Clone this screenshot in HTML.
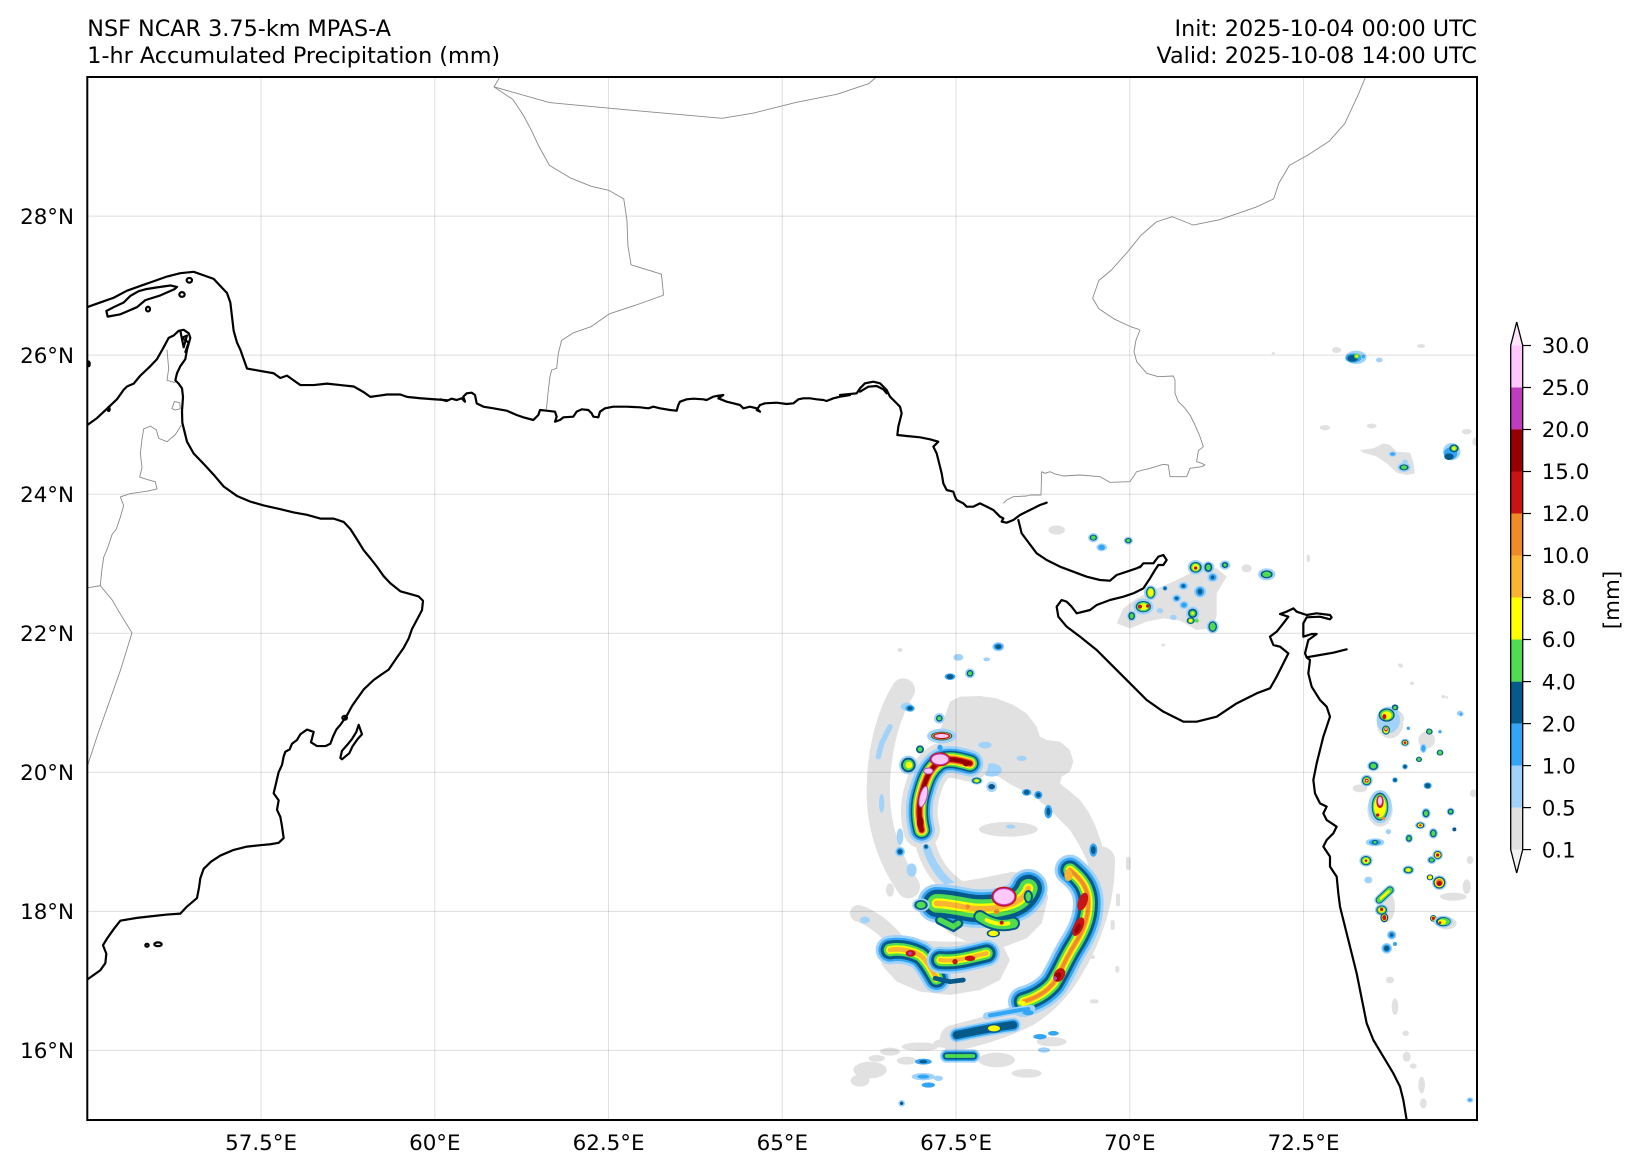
<!DOCTYPE html>
<html><head><meta charset="utf-8"><style>
html,body{margin:0;padding:0;background:#fff;}
svg{display:block;}
.t{font-family:"DejaVu Sans","Liberation Sans",sans-serif;fill:#000;}
.gy{fill:#e1e1e1}.lb{fill:#a0d2fa}.b{fill:#32a5f5}.db{fill:#065a8a}.gr{fill:#50dc50}.ye{fill:#ffff00}.o1{fill:#fab432}.o2{fill:#f08c28}.rd{fill:#c81414}.dr{fill:#960000}.mg{fill:#be3cbe}.pk{fill:#ffc8fa}
.cst{fill:none;stroke:#000;stroke-width:2.2;stroke-linejoin:round;stroke-linecap:round;}
.brd{fill:none;stroke:#8a8a8a;stroke-width:0.9;stroke-linejoin:round;}
.grid{stroke:#000;stroke-opacity:0.13;stroke-width:1;}
</style></head><body>
<svg width="1641" height="1173" viewBox="0 0 1641 1173" xmlns="http://www.w3.org/2000/svg">
<defs>
<clipPath id="mapclip"><rect x="87.3" y="77" width="1389.7" height="1043"/></clipPath>
<path id="nw" d="M245,600 C235,560 235,520 248,480 C258,445 270,415 300,395 C325,382 355,390 390,400"/>
<path id="cen" d="M290,820 C330,820 360,830 400,835 C440,838 480,835 520,820 C545,810 560,790 565,775"/>
<path id="llA" d="M150,960 C180,955 210,960 240,975 C260,990 275,1020 290,1045"/>
<path id="llB" d="M300,990 C340,995 380,985 440,970"/>
<path id="arc" d="M690,720 C720,745 745,770 745,820 C745,870 725,910 700,950 C675,990 665,1020 640,1060 C615,1090 585,1105 550,1115"/>
<path id="lb5" d="M350,1215 C400,1205 440,1195 520,1185"/>
<path id="s6" d="M320,1278 L400,1278"/>
</defs>

<!-- titles -->
<text class="t" x="87.3" y="36" font-size="22.3">NSF NCAR 3.75-km MPAS-A</text>
<text class="t" x="87.3" y="63" font-size="22.3">1-hr Accumulated Precipitation (mm)</text>
<text class="t" x="1477" y="36" font-size="22.3" text-anchor="end">Init: 2025-10-04 00:00 UTC</text>
<text class="t" x="1477" y="63" font-size="22.3" text-anchor="end">Valid: 2025-10-08 14:00 UTC</text>

<g clip-path="url(#mapclip)">
<!-- ===== CYCLONE ===== -->
<g transform="translate(840,630) scale(0.333333)">
 <path class="gy" d="M300,300 L330,215 L360,200 L420,198 L470,205 L520,225 L560,250 L590,290 L600,320 L620,330 L660,335 L690,360 L700,395 L690,425 L665,440 L660,460 L690,485 L720,510 L745,545 L765,585 L785,640 L800,700 L795,745 L775,770 L755,745 L740,690 L715,640 L690,600 L660,570 L625,535 L590,505 L555,485 L515,465 L475,440 L430,425 L395,405 L360,385 L320,360 Z"/>
 <g fill="none" stroke-linecap="round" stroke-linejoin="round">
  <path stroke="#e1e1e1" stroke-width="70" d="M190,180 C140,260 112,380 115,500 C118,600 150,690 205,770"/>
  <path stroke="#e1e1e1" stroke-width="60" d="M250,610 C262,690 300,750 370,790"/>
  <path stroke="#a0d2fa" stroke-width="24" d="M250,610 C262,690 300,750 370,790"/>
  <path stroke="#e1e1e1" stroke-width="50" d="M55,850 C100,865 140,900 170,935"/>
  <path stroke="#e1e1e1" stroke-width="80" d="M785,690 C785,790 760,880 720,960 C680,1040 640,1100 560,1150 C480,1190 420,1205 340,1225"/>
  <path stroke="#a0d2fa" stroke-width="16" d="M150,290 L125,340 L115,380"/>
 </g>
 <ellipse class="gy" cx="505" cy="598" rx="88" ry="22"/>
 <ellipse class="lb" cx="512" cy="590" rx="14" ry="6"/>
 <path class="gy" d="M250,790 L330,760 L420,745 L520,725 L600,745 L625,800 L605,880 L560,925 L480,955 L400,945 L330,910 L280,870 Z"/>
 <path class="gy" d="M120,940 L180,925 L300,935 L420,935 L490,950 L510,990 L480,1050 L420,1080 L330,1095 L240,1085 L170,1055 L125,1005 Z"/>
 <ellipse class="gy" cx="90" cy="1320" rx="50" ry="25"/>
 <ellipse class="gy" cx="60" cy="1352" rx="28" ry="18"/>
 <ellipse class="gy" cx="240" cy="1250" rx="55" ry="13"/>
 <ellipse class="gy" cx="320" cy="1240" rx="40" ry="14"/>
 <ellipse class="gy" cx="470" cy="1290" rx="55" ry="22"/>
 <ellipse class="gy" cx="560" cy="1330" rx="45" ry="13"/>
 <ellipse class="gy" cx="635" cy="1235" rx="45" ry="14"/>
 <ellipse class="gy" cx="200" cy="1292" rx="30" ry="12"/>
 <ellipse class="gy" cx="150" cy="1265" rx="30" ry="12"/>
 <ellipse class="gy" cx="110" cy="1285" rx="25" ry="10"/>
 <rect class="gy" x="858" y="680" width="14" height="40" rx="7"/>
 <rect class="gy" x="828" y="790" width="12" height="40" rx="6"/>
 <rect class="gy" x="812" y="870" width="12" height="30" rx="6"/>
 <rect class="gy" x="735" y="975" width="30" height="12" rx="6"/>
 <rect class="gy" x="750" y="1108" width="25" height="12" rx="6"/>
 <rect class="gy" x="826" y="1008" width="12" height="20" rx="6"/>
 <ellipse class="gy" cx="180" cy="60" rx="8" ry="6"/>
 <ellipse class="gy" cx="150" cy="780" rx="12" ry="20"/>
 <!-- light blue scattered -->
 <ellipse class="lb" cx="200" cy="230" rx="18" ry="12"/>
 <ellipse class="lb" cx="125" cy="520" rx="8" ry="28"/>
 <ellipse class="lb" cx="455" cy="420" rx="30" ry="20"/>
 <ellipse class="lb" cx="545" cy="385" rx="15" ry="8"/>
 <ellipse class="lb" cx="435" cy="345" rx="20" ry="10"/>
 <ellipse class="lb" cx="75" cy="870" rx="15" ry="10"/>
 <ellipse class="lb" cx="215" cy="720" rx="15" ry="20"/>
 <ellipse class="lb" cx="355" cy="82" rx="15" ry="10"/>
 <ellipse class="lb" cx="440" cy="88" rx="10" ry="6"/>
 <ellipse class="lb" cx="180" cy="620" rx="10" ry="25"/>
 <!-- stacked bands -->
 <g fill="none" stroke-linecap="round" stroke-linejoin="round">
  <use href="#nw" stroke="#e1e1e1" stroke-width="110"/>
  <use href="#nw" stroke="#a0d2fa" stroke-width="80"/>
  <use href="#nw" stroke="#32a5f5" stroke-width="64"/>
  <use href="#nw" stroke="#065a8a" stroke-width="52"/>
  <use href="#nw" stroke="#50dc50" stroke-width="42"/>
  <use href="#nw" stroke="#ffff00" stroke-width="32"/>
  <use href="#nw" stroke="#fab432" stroke-width="26"/>
  <use href="#nw" stroke="#f08c28" stroke-width="22"/>
  <use href="#nw" stroke="#c81414" stroke-width="17"/>
  <use href="#nw" stroke="#960000" stroke-width="11"/>

  <use href="#cen" stroke="#a0d2fa" stroke-width="116"/>
  <use href="#cen" stroke="#32a5f5" stroke-width="98"/>
  <use href="#cen" stroke="#065a8a" stroke-width="82"/>
  <use href="#cen" stroke="#50dc50" stroke-width="56"/>
  <use href="#cen" stroke="#ffff00" stroke-width="30"/>
  <use href="#cen" stroke="#fab432" stroke-width="16"/>

  <use href="#llA" stroke="#a0d2fa" stroke-width="86"/>
  <use href="#llA" stroke="#32a5f5" stroke-width="70"/>
  <use href="#llA" stroke="#065a8a" stroke-width="56"/>
  <use href="#llA" stroke="#50dc50" stroke-width="38"/>
  <use href="#llA" stroke="#ffff00" stroke-width="24"/>
  <use href="#llA" stroke="#fab432" stroke-width="14"/>

  <use href="#llB" stroke="#a0d2fa" stroke-width="80"/>
  <use href="#llB" stroke="#32a5f5" stroke-width="66"/>
  <use href="#llB" stroke="#065a8a" stroke-width="54"/>
  <use href="#llB" stroke="#50dc50" stroke-width="36"/>
  <use href="#llB" stroke="#ffff00" stroke-width="22"/>
  <use href="#llB" stroke="#fab432" stroke-width="12"/>
  <path stroke="#065a8a" stroke-width="14" d="M285,1045 L330,1055 L370,1050"/>

  <use href="#arc" stroke="#a0d2fa" stroke-width="92"/>
  <use href="#arc" stroke="#32a5f5" stroke-width="74"/>
  <use href="#arc" stroke="#065a8a" stroke-width="58"/>
  <use href="#arc" stroke="#50dc50" stroke-width="40"/>
  <use href="#arc" stroke="#ffff00" stroke-width="26"/>
  <use href="#arc" stroke="#fab432" stroke-width="16"/>
  <use href="#arc" stroke="#f08c28" stroke-width="10"/>

  <use href="#lb5" stroke="#a0d2fa" stroke-width="44"/>
  <use href="#lb5" stroke="#32a5f5" stroke-width="34"/>
  <use href="#lb5" stroke="#065a8a" stroke-width="24"/>
  <path stroke="#a0d2fa" stroke-width="22" d="M440,1158 C480,1150 520,1142 575,1136"/>
  <path stroke="#32a5f5" stroke-width="12" d="M450,1156 C490,1150 520,1142 565,1137"/>

  <use href="#s6" stroke="#a0d2fa" stroke-width="40"/>
  <use href="#s6" stroke="#32a5f5" stroke-width="30"/>
  <use href="#s6" stroke="#065a8a" stroke-width="22"/>
  <use href="#s6" stroke="#50dc50" stroke-width="11"/>
 </g>
 <!-- NW arm details -->
 <ellipse class="lb" cx="305" cy="318" rx="44" ry="22"/>
 <ellipse class="db" cx="305" cy="318" rx="32" ry="13"/>
 <ellipse class="ye" cx="305" cy="318" rx="28" ry="11"/>
 <ellipse class="rd" cx="305" cy="318" rx="26" ry="10"/>
 <ellipse class="pk" cx="305" cy="318" rx="21" ry="6"/>
 <circle class="lb" cx="298" cy="265" r="16"/><circle class="db" cx="298" cy="265" r="10"/><circle class="gr" cx="298" cy="265" r="6"/>
 <circle class="b" cx="300" cy="352" r="8"/>
 <circle class="lb" cx="205" cy="405" r="28"/><circle class="db" cx="205" cy="405" r="22"/><circle class="gr" cx="205" cy="405" r="16"/><circle class="ye" cx="207" cy="405" r="10"/>
 <circle class="db" cx="240" cy="358" r="12"/><circle class="gr" cx="240" cy="358" r="7"/>
 <ellipse class="rd" cx="300" cy="388" rx="31" ry="21"/>
 <ellipse class="pk" cx="300" cy="388" rx="26" ry="16" stroke="#be3cbe" stroke-width="3"/>
 <ellipse class="pk" cx="265" cy="423" rx="14" ry="9" stroke="#be3cbe" stroke-width="3"/>
 <ellipse class="pk" cx="250" cy="500" rx="11" ry="32" transform="rotate(15 250 500)" stroke="#be3cbe" stroke-width="3"/>
 <ellipse class="dr" cx="241" cy="578" rx="10" ry="20"/>
 <circle class="dr" cx="378" cy="400" r="9"/>
 <ellipse class="lb" cx="410" cy="452" rx="18" ry="12"/><ellipse class="db" cx="410" cy="452" rx="14" ry="9"/><ellipse class="gr" cx="410" cy="452" rx="10" ry="6"/><ellipse class="ye" cx="410" cy="452" rx="6" ry="4"/>
 <circle class="lb" cx="180" cy="665" r="15"/><circle class="b" cx="180" cy="665" r="11"/><circle class="db" cx="180" cy="665" r="7"/>
 <circle class="b" cx="258" cy="650" r="8"/><circle class="db" cx="258" cy="650" r="5"/>
 <!-- central details -->
 <ellipse class="rd" cx="492" cy="800" rx="38" ry="30"/>
 <ellipse class="pk" cx="492" cy="800" rx="32" ry="24" stroke="#be3cbe" stroke-width="3"/>
 <path fill="none" stroke="#065a8a" stroke-width="40" stroke-linecap="round" d="M420,860 C450,880 480,890 520,880"/>
 <path fill="none" stroke="#50dc50" stroke-width="28" stroke-linecap="round" d="M420,860 C450,880 480,890 520,880"/>
 <path fill="none" stroke="#ffff00" stroke-width="12" stroke-linecap="round" d="M440,870 C460,880 480,885 505,880"/>
 <ellipse class="db" cx="460" cy="910" rx="20" ry="12"/><ellipse class="ye" cx="460" cy="910" rx="15" ry="8"/>
 <path fill="none" stroke="#065a8a" stroke-width="30" stroke-linecap="round" d="M300,870 L340,890 L355,880"/>
 <path fill="none" stroke="#50dc50" stroke-width="16" stroke-linecap="round" d="M300,870 L340,890 L355,880"/>
 <ellipse class="lb" cx="243" cy="825" rx="26" ry="20"/><ellipse class="db" cx="243" cy="825" rx="20" ry="15"/><ellipse class="gr" cx="243" cy="825" rx="14" ry="10"/>
 <ellipse class="db" cx="565" cy="800" rx="14" ry="20"/><ellipse class="gr" cx="565" cy="800" rx="8" ry="14"/>
 <circle class="o2" cx="383" cy="830" r="7"/><circle class="o2" cx="470" cy="845" r="8"/><circle class="rd" cx="485" cy="878" r="6"/>
 <!-- lower-left cores -->
 <ellipse class="rd" cx="212" cy="970" rx="15" ry="10"/><circle class="mg" cx="210" cy="970" r="5"/>
 <circle class="rd" cx="345" cy="995" r="8"/>
 <ellipse class="rd" cx="390" cy="985" rx="16" ry="8"/>
 <!-- arc cores -->
 <ellipse class="rd" cx="728" cy="815" rx="14" ry="28" transform="rotate(20 728 815)"/>
 <ellipse class="rd" cx="715" cy="890" rx="14" ry="30" transform="rotate(25 715 890)"/>
 <ellipse class="dr" cx="713" cy="895" rx="7" ry="16" transform="rotate(25 713 895)"/>
 <ellipse class="rd" cx="658" cy="1035" rx="16" ry="22" transform="rotate(30 658 1035)"/>
 <ellipse class="dr" cx="652" cy="1040" rx="10" ry="14" transform="rotate(30 652 1040)"/>
 <circle class="mg" cx="645" cy="1045" r="6"/>
 <ellipse class="o1" cx="685" cy="735" rx="12" ry="18"/>
 <ellipse class="ye" cx="545" cy="1118" rx="12" ry="6"/>
 <!-- lower band details -->
 <ellipse class="db" cx="462" cy="1195" rx="24" ry="14"/><ellipse class="ye" cx="462" cy="1195" rx="18" ry="9"/>
 <ellipse class="b" cx="600" cy="1220" rx="20" ry="8"/><ellipse class="b" cx="640" cy="1210" rx="16" ry="7"/>
 <ellipse class="lb" cx="612" cy="1260" rx="18" ry="8"/>
 <ellipse class="b" cx="565" cy="1148" rx="16" ry="8"/>
 <ellipse class="b" cx="250" cy="1295" rx="25" ry="9"/><ellipse class="db" cx="250" cy="1295" rx="12" ry="5"/>
 <ellipse class="lb" cx="250" cy="1340" rx="35" ry="11"/><ellipse class="b" cx="250" cy="1340" rx="18" ry="6"/>
 <ellipse class="b" cx="265" cy="1365" rx="20" ry="8"/>
 <ellipse class="lb" cx="295" cy="1345" rx="14" ry="8"/>
 <circle class="lb" cx="185" cy="1420" r="10"/><circle class="db" cx="185" cy="1420" r="5"/>
 <!-- top dots -->
 <ellipse class="lb" cx="475" cy="50" rx="18" ry="14"/><ellipse class="b" cx="475" cy="50" rx="14" ry="10"/><ellipse class="db" cx="475" cy="50" rx="9" ry="7"/>
 <ellipse class="b" cx="330" cy="140" rx="16" ry="10"/><ellipse class="db" cx="330" cy="140" rx="10" ry="7"/>
 <circle class="lb" cx="390" cy="130" r="15"/><circle class="db" cx="390" cy="130" r="10"/><circle class="gr" cx="390" cy="130" r="6"/>
 <ellipse class="b" cx="210" cy="235" rx="14" ry="10"/><ellipse class="db" cx="210" cy="235" rx="8" ry="6"/>
 <circle class="lb" cx="455" cy="470" r="16"/><ellipse class="db" cx="455" cy="470" rx="10" ry="8"/>
 <ellipse class="b" cx="560" cy="487" rx="14" ry="10"/><ellipse class="db" cx="560" cy="487" rx="8" ry="7"/>
 <circle class="b" cx="595" cy="495" r="12"/><circle class="db" cx="595" cy="495" r="7"/>
 <ellipse class="b" cx="625" cy="545" rx="12" ry="20"/><ellipse class="db" cx="625" cy="545" rx="6" ry="12"/>
 <ellipse class="b" cx="760" cy="660" rx="12" ry="20"/><ellipse class="db" cx="760" cy="660" rx="7" ry="12"/>
</g>

<!-- ===== GUJARAT / NE region precip (zoom8 coords) ===== -->
<g transform="translate(1030,330) scale(0.333333)">
 <ellipse class="gy" cx="920" cy="60" rx="14" ry="9"/>
 <ellipse class="gy" cx="1175" cy="48" rx="10" ry="5"/>
 <ellipse class="gy" cx="885" cy="293" rx="16" ry="8"/>
 <ellipse class="gy" cx="1025" cy="288" rx="15" ry="7"/>
 <ellipse class="gy" cx="1310" cy="305" rx="15" ry="8"/>
 <ellipse class="gy" cx="1335" cy="335" rx="8" ry="12"/>
 <ellipse class="gy" cx="730" cy="70" rx="5" ry="4"/>
 <path class="gy" d="M990,360 L1030,355 L1060,340 L1080,345 L1100,365 L1140,368 L1150,395 L1155,430 L1130,435 L1100,428 L1070,400 L1040,380 L1000,368 Z"/>
 <ellipse class="gy" cx="80" cy="600" rx="25" ry="14"/>
 <path class="gy" d="M260,880 L280,835 L320,805 L370,780 L430,755 L480,730 L520,712 L560,715 L590,740 L560,790 L560,860 L545,895 L500,900 L450,872 L400,865 L350,875 L300,895 Z"/>
 <ellipse class="gy" cx="650" cy="715" rx="15" ry="12"/>
 <ellipse class="gy" cx="835" cy="685" rx="5" ry="12"/>
 <ellipse class="gy" cx="1110" cy="1005" rx="6" ry="5"/>
 <ellipse class="gy" cx="1145" cy="1060" rx="5" ry="5"/>
 <ellipse class="gy" cx="1240" cy="1100" rx="6" ry="5"/>
 <ellipse class="gy" cx="1090" cy="1165" rx="32" ry="26"/>
 <ellipse class="gy" cx="400" cy="945" rx="6" ry="4"/>
 <!-- cells -->
 <ellipse class="lb" cx="978" cy="82" rx="32" ry="20"/><ellipse class="b" cx="970" cy="84" rx="24" ry="14"/><ellipse class="db" cx="968" cy="85" rx="16" ry="10"/><ellipse class="gr" cx="980" cy="78" rx="8" ry="8"/><circle class="ye" cx="980" cy="78" r="4"/>
 <ellipse class="lb" cx="1048" cy="90" rx="10" ry="7"/><circle class="b" cx="1000" cy="80" r="5"/>
 <ellipse class="lb" cx="1088" cy="372" rx="12" ry="8"/><ellipse class="b" cx="1088" cy="372" rx="7" ry="5"/>
 <ellipse class="lb" cx="1125" cy="395" rx="8" ry="6"/>
 <ellipse class="lb" cx="1122" cy="412" rx="20" ry="14"/><ellipse class="db" cx="1122" cy="412" rx="14" ry="9"/><ellipse class="gr" cx="1122" cy="412" rx="9" ry="6"/>
 <circle class="lb" cx="1265" cy="365" r="26"/><ellipse class="b" cx="1262" cy="370" rx="20" ry="18"/><ellipse class="db" cx="1257" cy="380" rx="14" ry="10"/><ellipse class="db" cx="1272" cy="355" rx="14" ry="12"/><ellipse class="gr" cx="1272" cy="355" rx="9" ry="8"/><circle class="ye" cx="1272" cy="355" r="5"/>
 <ellipse class="lb" cx="190" cy="623" rx="16" ry="14"/><ellipse class="db" cx="190" cy="623" rx="11" ry="9"/><ellipse class="gr" cx="190" cy="623" rx="7" ry="6"/>
 <ellipse class="lb" cx="215" cy="652" rx="16" ry="12"/><ellipse class="b" cx="215" cy="652" rx="10" ry="8"/>
 <ellipse class="lb" cx="295" cy="632" rx="14" ry="12"/><ellipse class="db" cx="295" cy="632" rx="10" ry="8"/><ellipse class="gr" cx="295" cy="632" rx="6" ry="5"/>
 <ellipse class="lb" cx="497" cy="712" rx="24" ry="22"/><ellipse class="db" cx="497" cy="712" rx="18" ry="16"/><ellipse class="gr" cx="497" cy="712" rx="14" ry="13"/><ellipse class="ye" cx="497" cy="712" rx="10" ry="10"/><circle class="rd" cx="497" cy="714" r="5"/>
 <ellipse class="lb" cx="535" cy="712" rx="18" ry="18"/><ellipse class="db" cx="535" cy="712" rx="12" ry="14"/><ellipse class="gr" cx="535" cy="712" rx="7" ry="9"/>
 <ellipse class="lb" cx="585" cy="705" rx="16" ry="14"/><ellipse class="db" cx="585" cy="705" rx="10" ry="9"/><circle class="gr" cx="585" cy="705" r="5"/>
 <ellipse class="lb" cx="548" cy="742" rx="16" ry="14"/><ellipse class="b" cx="548" cy="742" rx="11" ry="10"/><circle class="db" cx="548" cy="742" r="5"/>
 <ellipse class="lb" cx="460" cy="768" rx="15" ry="12"/><ellipse class="b" cx="460" cy="768" rx="10" ry="8"/><circle class="db" cx="460" cy="768" r="5"/>
 <ellipse class="lb" cx="510" cy="785" rx="18" ry="18"/><ellipse class="b" cx="510" cy="785" rx="13" ry="14"/><ellipse class="db" cx="510" cy="785" rx="7" ry="8"/>
 <ellipse class="lb" cx="440" cy="805" rx="14" ry="12"/><ellipse class="b" cx="440" cy="805" rx="9" ry="8"/><ellipse class="db" cx="440" cy="805" rx="5" ry="4"/>
 <ellipse class="lb" cx="462" cy="825" rx="14" ry="12"/><ellipse class="b" cx="462" cy="825" rx="9" ry="8"/>
 <circle class="lb" cx="488" cy="850" r="20"/><circle class="db" cx="488" cy="850" r="14"/><circle class="gr" cx="488" cy="850" r="9"/><circle class="ye" cx="488" cy="850" r="4"/>
 <ellipse class="db" cx="482" cy="872" rx="12" ry="10"/><ellipse class="gr" cx="482" cy="872" rx="8" ry="7"/><circle class="ye" cx="482" cy="872" r="5"/>
 <circle class="gr" cx="500" cy="872" r="6"/>
 <ellipse class="lb" cx="548" cy="890" rx="18" ry="20"/><ellipse class="db" cx="548" cy="890" rx="13" ry="16"/><ellipse class="gr" cx="548" cy="890" rx="9" ry="12"/>
 <ellipse class="lb" cx="362" cy="788" rx="20" ry="22"/><ellipse class="db" cx="362" cy="788" rx="14" ry="18"/><ellipse class="gr" cx="362" cy="788" rx="11" ry="15"/><ellipse class="ye" cx="362" cy="788" rx="8" ry="12"/>
 <ellipse class="lb" cx="340" cy="830" rx="30" ry="24"/><ellipse class="db" cx="340" cy="830" rx="23" ry="17"/><ellipse class="gr" cx="340" cy="830" rx="19" ry="14"/><ellipse class="ye" cx="340" cy="830" rx="15" ry="10"/><circle class="rd" cx="330" cy="830" r="6"/><circle class="rd" cx="353" cy="828" r="5"/>
 <ellipse class="lb" cx="305" cy="858" rx="14" ry="16"/><ellipse class="db" cx="305" cy="858" rx="10" ry="12"/><ellipse class="gr" cx="305" cy="858" rx="6" ry="8"/>
 <circle class="b" cx="405" cy="775" r="7"/><circle class="db" cx="405" cy="775" r="4"/>
 <ellipse class="lb" cx="390" cy="842" rx="10" ry="8"/>
 <ellipse class="lb" cx="430" cy="862" rx="10" ry="8"/>
 <ellipse class="lb" cx="710" cy="733" rx="26" ry="18"/><ellipse class="db" cx="710" cy="733" rx="18" ry="12"/><ellipse class="gr" cx="710" cy="733" rx="13" ry="8"/>
 <ellipse class="lb" cx="1078" cy="1160" rx="36" ry="28"/><ellipse class="db" cx="1075" cy="1160" rx="28" ry="20"/><ellipse class="gr" cx="1075" cy="1160" rx="22" ry="16"/><ellipse class="ye" cx="1075" cy="1160" rx="16" ry="12"/><ellipse class="rd" cx="1065" cy="1160" rx="8" ry="10"/>
 <circle class="db" cx="1095" cy="1133" r="10"/><circle class="gr" cx="1095" cy="1133" r="6"/>
 <ellipse class="rd" cx="1065" cy="1195" rx="10" ry="7"/><circle class="pk" cx="1065" cy="1195" r="4"/>
 <circle class="b" cx="1135" cy="1195" r="5"/><circle class="b" cx="1195" cy="1200" r="5"/>
 <ellipse class="lb" cx="1290" cy="1150" rx="10" ry="8"/><ellipse class="b" cx="1290" cy="1150" rx="5" ry="4"/>
</g>

<!-- ===== India west coast precip (zoom9 coords) ===== -->
<g transform="translate(1240,640) scale(0.333333)">
 <ellipse class="gy" cx="483" cy="78" rx="6" ry="5"/>
 <ellipse class="gy" cx="517" cy="130" rx="5" ry="5"/>
 <ellipse class="gy" cx="620" cy="172" rx="4" ry="4"/>
 <ellipse class="gy" cx="360" cy="445" rx="22" ry="12"/>
 <ellipse class="gy" cx="640" cy="770" rx="40" ry="12"/>
 <ellipse class="gy" cx="680" cy="740" rx="12" ry="22"/>
 <ellipse class="gy" cx="450" cy="1020" rx="12" ry="10"/>
 <ellipse class="gy" cx="465" cy="1100" rx="10" ry="25"/>
 <ellipse class="gy" cx="497" cy="1180" rx="10" ry="8"/>
 <ellipse class="gy" cx="500" cy="1250" rx="12" ry="15"/>
 <ellipse class="gy" cx="520" cy="1278" rx="10" ry="8"/>
 <ellipse class="gy" cx="545" cy="1335" rx="10" ry="25"/>
 <ellipse class="gy" cx="550" cy="1390" rx="10" ry="15"/>
 <ellipse class="gy" cx="700" cy="460" rx="10" ry="12"/>
 <ellipse class="gy" cx="690" cy="660" rx="10" ry="12"/>
 <ellipse class="gy" cx="450" cy="250" rx="40" ry="45"/>
 <ellipse class="gy" cx="420" cy="510" rx="38" ry="50"/>
 <ellipse class="gy" cx="560" cy="300" rx="25" ry="25"/>
 <ellipse class="gy" cx="440" cy="800" rx="25" ry="45"/>
 <ellipse class="gy" cx="620" cy="850" rx="30" ry="18"/>
 <ellipse class="lb" cx="690" cy="1380" rx="10" ry="8"/><ellipse class="b" cx="690" cy="1380" rx="5" ry="4"/>
 <ellipse class="lb" cx="445" cy="240" rx="35" ry="40"/><ellipse class="db" cx="440" cy="225" rx="24" ry="20"/><ellipse class="gr" cx="440" cy="225" rx="20" ry="16"/><ellipse class="ye" cx="440" cy="226" rx="15" ry="12"/><ellipse class="rd" cx="433" cy="230" rx="6" ry="8"/>
 <ellipse class="db" cx="465" cy="203" rx="9" ry="8"/><circle class="gr" cx="465" cy="203" r="5"/>
 <ellipse class="db" cx="438" cy="270" rx="12" ry="14"/><ellipse class="gr" cx="438" cy="270" rx="9" ry="11"/><ellipse class="ye" cx="438" cy="270" rx="7" ry="9"/><ellipse class="rd" cx="438" cy="268" rx="5" ry="6"/><circle class="pk" cx="438" cy="267" r="3"/>
 <ellipse class="lb" cx="495" cy="308" rx="14" ry="12"/><ellipse class="db" cx="495" cy="308" rx="10" ry="9"/><ellipse class="ye" cx="495" cy="308" rx="7" ry="6"/><circle class="rd" cx="495" cy="308" r="4"/>
 <ellipse class="db" cx="568" cy="275" rx="10" ry="9"/><circle class="gr" cx="568" cy="275" r="6"/>
 <ellipse class="db" cx="600" cy="338" rx="10" ry="9"/><circle class="gr" cx="600" cy="338" r="6"/>
 <ellipse class="db" cx="537" cy="358" rx="9" ry="8"/><circle class="gr" cx="537" cy="358" r="5"/>
 <circle class="b" cx="495" cy="380" r="8"/><circle class="db" cx="495" cy="380" r="5"/>
 <ellipse class="lb" cx="550" cy="325" rx="10" ry="14"/><ellipse class="b" cx="550" cy="325" rx="6" ry="10"/>
 <circle class="lb" cx="600" cy="275" r="6"/><circle class="b" cx="600" cy="275" r="4"/>
 <circle class="lb" cx="663" cy="222" r="8"/><circle class="b" cx="663" cy="222" r="4"/>
 <ellipse class="lb" cx="400" cy="378" rx="18" ry="16"/><ellipse class="db" cx="400" cy="378" rx="14" ry="12"/><ellipse class="gr" cx="400" cy="378" rx="9" ry="8"/>
 <circle class="lb" cx="380" cy="422" r="18"/><circle class="db" cx="380" cy="422" r="14"/><circle class="gr" cx="380" cy="422" r="11"/><circle class="ye" cx="380" cy="422" r="8"/><circle class="rd" cx="380" cy="422" r="6"/><circle class="pk" cx="380" cy="422" r="3"/>
 <circle class="b" cx="465" cy="420" r="8"/><circle class="db" cx="465" cy="420" r="5"/>
 <ellipse class="b" cx="563" cy="437" rx="12" ry="10"/><ellipse class="db" cx="563" cy="437" rx="8" ry="7"/>
 <ellipse class="lb" cx="420" cy="500" rx="35" ry="50"/><ellipse class="db" cx="420" cy="500" rx="25" ry="42"/><ellipse class="gr" cx="420" cy="500" rx="22" ry="38"/><ellipse class="ye" cx="420" cy="500" rx="18" ry="32"/><ellipse class="rd" cx="420" cy="485" rx="11" ry="19"/><ellipse class="pk" cx="420" cy="483" rx="7" ry="14" stroke="#be3cbe" stroke-width="2"/><circle class="rd" cx="413" cy="525" r="5"/><ellipse class="o2" cx="430" cy="535" rx="6" ry="5"/>
 <ellipse class="lb" cx="558" cy="520" rx="14" ry="16"/><ellipse class="db" cx="558" cy="520" rx="10" ry="12"/><ellipse class="gr" cx="558" cy="520" rx="6" ry="8"/>
 <circle class="lb" cx="632" cy="515" r="12"/><circle class="db" cx="632" cy="515" r="9"/><circle class="gr" cx="632" cy="515" r="5"/>
 <ellipse class="lb" cx="580" cy="580" rx="14" ry="16"/><ellipse class="db" cx="580" cy="580" rx="10" ry="12"/><ellipse class="gr" cx="580" cy="580" rx="6" ry="8"/>
 <ellipse class="lb" cx="541" cy="556" rx="16" ry="12"/><ellipse class="db" cx="541" cy="556" rx="12" ry="9"/><ellipse class="ye" cx="541" cy="556" rx="8" ry="6"/><ellipse class="rd" cx="541" cy="556" rx="4" ry="3"/>
 <circle class="db" cx="643" cy="568" r="6"/>
 <ellipse class="lb" cx="507" cy="595" rx="12" ry="14"/><ellipse class="db" cx="507" cy="595" rx="9" ry="10"/><ellipse class="gr" cx="507" cy="595" rx="5" ry="6"/>
 <ellipse class="lb" cx="405" cy="607" rx="28" ry="12"/><ellipse class="b" cx="405" cy="607" rx="18" ry="8"/><ellipse class="db" cx="405" cy="607" rx="9" ry="7"/><ellipse class="gr" cx="405" cy="607" rx="5" ry="4"/>
 <ellipse class="lb" cx="378" cy="662" rx="20" ry="18"/><ellipse class="db" cx="378" cy="662" rx="16" ry="14"/><ellipse class="gr" cx="378" cy="662" rx="13" ry="11"/><ellipse class="ye" cx="378" cy="662" rx="9" ry="8"/><circle class="rd" cx="378" cy="662" r="4"/>
 <ellipse class="lb" cx="505" cy="690" rx="18" ry="14"/><ellipse class="db" cx="505" cy="690" rx="14" ry="10"/><ellipse class="gr" cx="505" cy="690" rx="10" ry="7"/><ellipse class="ye" cx="505" cy="690" rx="7" ry="5"/>
 <ellipse class="lb" cx="575" cy="660" rx="14" ry="12"/><ellipse class="db" cx="575" cy="660" rx="10" ry="8"/><ellipse class="gr" cx="575" cy="660" rx="6" ry="5"/>
 <circle class="lb" cx="593" cy="645" r="16"/><circle class="db" cx="593" cy="645" r="12"/><circle class="ye" cx="593" cy="645" r="9"/><circle class="rd" cx="593" cy="645" r="5"/>
 <circle class="lb" cx="598" cy="728" r="22"/><circle class="db" cx="598" cy="728" r="18"/><circle class="ye" cx="598" cy="728" r="14"/><circle class="o2" cx="598" cy="728" r="11"/><circle class="rd" cx="598" cy="730" r="8"/><circle class="dr" cx="598" cy="732" r="5"/>
 <ellipse class="db" cx="570" cy="712" rx="10" ry="9"/><circle class="ye" cx="570" cy="712" r="6"/>
 <g fill="none" stroke-linecap="round">
  <path stroke="#a0d2fa" stroke-width="30" d="M418,780 L450,750"/>
  <path stroke="#065a8a" stroke-width="22" d="M418,780 L450,750"/>
  <path stroke="#50dc50" stroke-width="16" d="M418,780 L450,750"/>
  <path stroke="#ffff00" stroke-width="7" d="M422,776 L446,754"/>
 </g>
 <ellipse class="lb" cx="425" cy="810" rx="20" ry="18"/><ellipse class="db" cx="425" cy="810" rx="16" ry="14"/><ellipse class="gr" cx="425" cy="810" rx="13" ry="11"/><ellipse class="ye" cx="425" cy="810" rx="10" ry="8"/><circle class="rd" cx="425" cy="808" r="5"/>
 <ellipse class="db" cx="433" cy="833" rx="12" ry="14"/><ellipse class="ye" cx="433" cy="833" rx="8" ry="10"/><ellipse class="rd" cx="433" cy="833" rx="6" ry="8"/>
 <circle class="lb" cx="455" cy="885" r="14"/><circle class="b" cx="455" cy="885" r="10"/><circle class="db" cx="455" cy="885" r="5"/>
 <circle class="lb" cx="440" cy="925" r="16"/><circle class="b" cx="440" cy="925" r="12"/><circle class="db" cx="440" cy="925" r="8"/>
 <circle class="b" cx="465" cy="912" r="6"/>
 <circle class="db" cx="580" cy="835" r="10"/><circle class="ye" cx="580" cy="835" r="7"/><circle class="rd" cx="580" cy="835" r="5"/>
 <ellipse class="lb" cx="610" cy="845" rx="28" ry="18"/><ellipse class="db" cx="610" cy="845" rx="22" ry="14"/><ellipse class="gr" cx="612" cy="845" rx="18" ry="11"/><ellipse class="ye" cx="606" cy="846" rx="12" ry="8"/><circle class="rd" cx="600" cy="848" r="4"/>
 <ellipse class="lb" cx="385" cy="720" rx="12" ry="10"/>
 <circle class="lb" cx="445" cy="575" r="8"/>
</g>

<ellipse class="gy" cx="1421" cy="346" rx="4" ry="2"/>

<!-- ===== GRIDLINES ===== -->
<g class="grid">
 <line x1="261.05" y1="77" x2="261.05" y2="1120"/>
 <line x1="434.8" y1="77" x2="434.8" y2="1120"/>
 <line x1="608.55" y1="77" x2="608.55" y2="1120"/>
 <line x1="782.3" y1="77" x2="782.3" y2="1120"/>
 <line x1="956.05" y1="77" x2="956.05" y2="1120"/>
 <line x1="1129.8" y1="77" x2="1129.8" y2="1120"/>
 <line x1="1303.55" y1="77" x2="1303.55" y2="1120"/>
 <line x1="87" y1="216.1" x2="1477" y2="216.1"/>
 <line x1="87" y1="355.1" x2="1477" y2="355.1"/>
 <line x1="87" y1="494.2" x2="1477" y2="494.2"/>
 <line x1="87" y1="633.2" x2="1477" y2="633.2"/>
 <line x1="87" y1="772.3" x2="1477" y2="772.3"/>
 <line x1="87" y1="911.4" x2="1477" y2="911.4"/>
 <line x1="87" y1="1050.4" x2="1477" y2="1050.4"/>
</g>

<!-- ===== BORDERS ===== -->
<g transform="scale(1.04656)">
 <path class="brd" vector-effect="non-scaling-stroke" d="M478,73 L472,83 L525,98 L600,105 L690,113 L720,108 L760,98 L800,90 L830,80 L838,73"/>
 <path class="brd" vector-effect="non-scaling-stroke" d="M472,83 L490,95 L500,110 L508,125 L515,140 L525,158 L545,170 L565,178 L582,182 L596,190 L599,210 L600,235 L603,253 L632,262 L634,282 L612,290 L582,300 L565,312 L548,318 L537,325"/>
 <path class="brd" vector-effect="non-scaling-stroke" d="M1305,73 L1298,90 L1285,118 L1270,135 L1250,148 L1232,158 L1222,175 L1217,190 L1200,198 L1165,210 L1140,215 L1120,207 L1105,212 L1090,225 L1078,240 L1062,258 L1050,268 L1044,285 L1050,295 L1065,305 L1080,312 L1089,315"/>
</g>
<path class="brd" transform="translate(440,340) scale(0.333333)" vector-effect="non-scaling-stroke" d="M365,0 L355,40 L350,85 L335,90 L330,110 L325,150 L320,200 L318,210"/>
<path class="brd" transform="translate(1030,330) scale(0.333333)" vector-effect="non-scaling-stroke" d="M330,0 L318,30 L312,65 L320,95 L350,130 L385,140 L430,138 L435,150 L435,190 L445,215 L465,235 L480,255 L495,285 L510,320 L520,350 L505,362 L500,395 L515,400 L525,405 L515,410 L480,415 L470,440 L420,440 L415,405 L400,403 L360,415 L320,425 L300,455 L240,457 L210,440 L150,435 L100,438 L75,432 L60,425 L45,430 L35,425 L33,495 L0,495"/>
<path class="brd" transform="translate(840,360) scale(0.333333)" vector-effect="non-scaling-stroke" d="M570,405 L560,408 L520,410 L500,420 L490,430"/>
<g transform="translate(87,260) scale(0.333333,0.47192)">
 <path class="brd" vector-effect="non-scaling-stroke" d="M240,190 L245,230 L240,255 L265,260"/>
 <path class="brd" vector-effect="non-scaling-stroke" d="M255,315 L262,300 L278,302 L280,315 L265,318 Z"/>
 <path class="brd" vector-effect="non-scaling-stroke" d="M283,350 L265,370 L240,385 L215,378 L208,360 L190,352 L170,358 L165,380 L160,410 L165,440 L158,460 L180,465 L205,470 L210,485 L180,490 L130,495 L100,502 L110,520 L100,545 L88,570 L75,582 L62,610 L50,630 L44,660 L40,690 L0,695"/>
 <path class="brd" vector-effect="non-scaling-stroke" d="M40,690 L75,720 L100,750 L135,790 L100,870 L60,950 L30,1010 L0,1075"/>
</g>

<!-- ===== COASTLINES ===== -->
<g transform="translate(87,260) scale(0.333333,0.47192)">
 <path class="cst" vector-effect="non-scaling-stroke" d="M0,100 L40,90 L80,80 L120,65 L160,55 L200,45 L240,35 L280,28 L320,25 L360,35 L380,40 L400,55 L420,70 L430,90 L435,120 L440,150 L450,175 L460,190 L470,210 L480,230 L520,235 L560,240 L580,250 L600,245 L620,255 L640,265 L680,265 L720,262 L760,265 L800,268 L830,280 L850,290 L870,288 L900,285 L940,285 L960,290 L1000,293 L1040,295 L1080,297"/>
 <path class="cst" vector-effect="non-scaling-stroke" d="M58,108 L62,120 L100,115 L150,100 L175,85 L220,75 L262,62 L270,57 L250,54 L210,58 L175,62 L155,66 L130,76 L110,90 L80,100 Z"/>
 <path class="cst" vector-effect="non-scaling-stroke" d="M0,350 L30,335 L60,315 L90,295 L110,275 L120,268 L140,262 L160,245 L190,225 L210,210 L230,185 L245,165 L260,160 L275,150 L290,148 L305,155 L310,165 L300,190 L295,210 L280,225 L270,240 L265,255 L275,262 L285,272 L288,290 L285,320 L286,345 L300,385 L320,410 L350,432 L380,455 L410,480 L450,500 L490,512 L530,520 L580,528 L620,535 L660,540 L700,548 L740,548 L770,555 L790,570 L810,592 L830,615 L850,632 L870,650 L890,670 L910,685 L940,702 L970,708 L995,713 L1008,722 L1005,742 L990,762 L975,782 L965,802 L950,822 L930,842 L905,868 L880,880 L860,890 L830,910 L810,930 L795,945 L782,962 L770,975 L760,985 L748,995 L738,1010 L730,1025 L715,1030 L690,1030 L672,1022 L680,1000 L660,995 L640,1005 L630,1017 L615,1025 L608,1037 L595,1042 L590,1052 L585,1070 L575,1085 L570,1100 L565,1115 L560,1130 L575,1145 L570,1165 L580,1180 L585,1200 L590,1225 L575,1235 L550,1238 L520,1240 L480,1243 L440,1250 L400,1262 L372,1275 L350,1290 L340,1310 L336,1330 L330,1352 L300,1370 L280,1385 L240,1387 L200,1390 L150,1394 L100,1400 L80,1418 L60,1438 L48,1452 L58,1470 L55,1490 L40,1505 L0,1525"/>
 <path class="cst" vector-effect="non-scaling-stroke" d="M280,150 L290,185 L300,160 L285,165 L305,175 L295,195"/>
 <path class="cst" vector-effect="non-scaling-stroke" d="M760,1055 L765,1040 L780,1028 L795,1015 L808,1000 L815,985 L825,1005 L812,1015 L797,1030 L787,1045 L765,1058 Z"/>
 <ellipse class="cst" vector-effect="non-scaling-stroke" cx="307" cy="43" rx="8" ry="5"/>
 <ellipse class="cst" vector-effect="non-scaling-stroke" cx="285" cy="73" rx="8" ry="5"/>
 <ellipse class="cst" vector-effect="non-scaling-stroke" cx="183" cy="104" rx="6" ry="5"/>
 <ellipse class="cst" vector-effect="non-scaling-stroke" cx="65" cy="316" rx="3" ry="4"/>
 <ellipse class="cst" vector-effect="non-scaling-stroke" cx="5" cy="220" rx="3" ry="5"/>
 <ellipse class="cst" vector-effect="non-scaling-stroke" cx="773" cy="970" rx="7" ry="4"/>
 <ellipse class="cst" vector-effect="non-scaling-stroke" cx="180" cy="1452" rx="5" ry="3"/>
 <ellipse class="cst" vector-effect="non-scaling-stroke" cx="213" cy="1450" rx="11" ry="4"/>
</g>
<path class="cst" transform="translate(440,340) scale(0.333333)" vector-effect="non-scaling-stroke" d="M0,178 L20,183 L35,176 L50,180 L65,175 L75,185 L70,170 L80,160 L95,158 L105,165 L110,190 L130,200 L160,205 L200,212 L230,225 L250,232 L280,240 L295,225 L300,210 L320,212 L345,215 L350,230 L345,245 L360,240 L370,232 L400,230 L410,215 L425,208 L445,210 L455,220 L460,230 L475,232 L480,215 L495,205 L520,200 L560,200 L600,202 L625,205 L640,200 L660,205 L690,210 L710,212 L715,195 L720,185 L740,178 L760,176 L790,178 L800,180 L820,170 L830,168 L850,165 L835,175 L860,185 L880,190 L900,195 L910,205 L930,200 L950,205 L960,215 L950,210 L960,195 L975,190 L1010,188 L1040,192 L1060,190 L1075,178 L1090,175 L1110,175 L1130,178 L1150,180 L1160,183 L1180,175 L1200,170 L1230,165"/>
<g transform="translate(840,360) scale(0.333333)">
 <path class="cst" vector-effect="non-scaling-stroke" d="M0,105 L50,100 L60,85 L75,70 L100,65 L120,70 L140,90 L150,110 L160,120 L180,140 L185,160 L180,180 L175,200 L172,225 L200,228 L240,232 L270,238 L295,245 L280,260 L290,280 L295,300 L300,320 L305,340 L310,370 L320,390 L340,395 L345,410 L350,420 L370,430 L380,440 L400,440 L420,430 L440,440 L460,450 L470,460 L480,470 L490,475 L485,485 L500,488 L520,480 L540,465 L560,455 L580,445 L600,435 L620,428"/>
 <path class="cst" vector-effect="non-scaling-stroke" d="M60,95 L85,80 L110,78 L130,88 L140,100"/>
 <path class="cst" vector-effect="non-scaling-stroke" d="M535,480 L540,500 L545,520 L560,540 L575,560 L590,580 L620,600 L660,620 L700,635 L740,650 L780,660 L810,662 L830,645 L860,635 L890,625 L900,620"/>
</g>
<path class="cst" transform="translate(1030,330) scale(0.333333)" vector-effect="non-scaling-stroke" d="M330,712 L340,700 L370,700 L385,680 L400,675 L410,690 L400,705 L385,705 L375,720 L360,745 L340,775 L310,790 L280,800 L240,810 L200,825 L180,840 L140,850 L125,830 L110,815 L95,810 L80,830 L85,860 L110,890 L150,920 L200,960 L250,1010 L300,1060 L350,1110 L400,1145 L460,1175 L500,1175 L560,1160 L620,1120 L680,1090 L720,1075 L740,1040 L760,1000 L775,970 L750,950 L730,945 L720,920 L740,905 L760,880 L775,860 L750,852 L770,845 L790,835 L800,845 L830,855 L860,850 L900,855 L905,862 L900,868 L870,860 L830,862 L820,880 L820,920 L845,912 L860,912 L835,930 L825,970 L830,982 L870,975 L910,968 L950,958"/>
<path class="cst" transform="translate(1240,640) scale(0.333333)" vector-effect="non-scaling-stroke" d="M200,52 L210,60 L205,100 L215,140 L240,180 L260,200 L270,230 L260,260 L250,290 L240,330 L230,370 L220,420 L225,460 L240,490 L260,500 L250,520 L260,540 L290,560 L280,580 L260,600 L250,620 L270,650 L270,680 L290,710 L295,760 L300,800 L310,840 L320,880 L330,920 L340,960 L350,1000 L360,1050 L370,1100 L380,1150 L400,1200 L430,1250 L460,1300 L480,1340 L490,1380 L500,1440"/>
</g>

<!-- frame -->
<rect x="87.3" y="77" width="1389.7" height="1043" fill="none" stroke="#000" stroke-width="2"/>

<!-- tick labels -->
<g class="t" font-size="21.4">
 <text x="261.05" y="1150" text-anchor="middle">57.5°E</text>
 <text x="434.8" y="1150" text-anchor="middle">60°E</text>
 <text x="608.55" y="1150" text-anchor="middle">62.5°E</text>
 <text x="782.3" y="1150" text-anchor="middle">65°E</text>
 <text x="956.05" y="1150" text-anchor="middle">67.5°E</text>
 <text x="1129.8" y="1150" text-anchor="middle">70°E</text>
 <text x="1303.55" y="1150" text-anchor="middle">72.5°E</text>
 <text x="74" y="224" text-anchor="end">28°N</text>
 <text x="74" y="363" text-anchor="end">26°N</text>
 <text x="74" y="502" text-anchor="end">24°N</text>
 <text x="74" y="641" text-anchor="end">22°N</text>
 <text x="74" y="780" text-anchor="end">20°N</text>
 <text x="74" y="919" text-anchor="end">18°N</text>
 <text x="74" y="1058" text-anchor="end">16°N</text>
</g>

<!-- colorbar -->
<g>
 <rect x="1510.7" y="807.6" width="12" height="42" fill="#e1e1e1"/>
 <rect x="1510.7" y="765.6" width="12" height="42" fill="#a0d2fa"/>
 <rect x="1510.7" y="723.6" width="12" height="42" fill="#32a5f5"/>
 <rect x="1510.7" y="681.6" width="12" height="42" fill="#065a8a"/>
 <rect x="1510.7" y="639.5" width="12" height="42.1" fill="#50dc50"/>
 <rect x="1510.7" y="597.5" width="12" height="42" fill="#ffff00"/>
 <rect x="1510.7" y="555.5" width="12" height="42" fill="#fab432"/>
 <rect x="1510.7" y="513.5" width="12" height="42" fill="#f08c28"/>
 <rect x="1510.7" y="471.5" width="12" height="42" fill="#c81414"/>
 <rect x="1510.7" y="429.5" width="12" height="42" fill="#960000"/>
 <rect x="1510.7" y="387.5" width="12" height="42" fill="#be3cbe"/>
 <rect x="1510.7" y="345.5" width="12" height="42" fill="#ffc8fa"/>
 <polygon points="1510.7,345.5 1522.7,345.5 1516.7,322" fill="#ffe4fc"/>
 <polygon points="1510.7,849.6 1522.7,849.6 1516.7,873" fill="#f2f2f2"/>
 <path d="M1510.7,345.5 L1516.7,322 L1522.7,345.5 L1522.7,849.6 L1516.7,873 L1510.7,849.6 Z" fill="none" stroke="#000" stroke-width="1.3"/>
 <g stroke="#000" stroke-width="1.2">
  <line x1="1522.7" y1="849.6" x2="1531" y2="849.6"/>
  <line x1="1522.7" y1="807.6" x2="1531" y2="807.6"/>
  <line x1="1522.7" y1="765.6" x2="1531" y2="765.6"/>
  <line x1="1522.7" y1="723.6" x2="1531" y2="723.6"/>
  <line x1="1522.7" y1="681.6" x2="1531" y2="681.6"/>
  <line x1="1522.7" y1="639.5" x2="1531" y2="639.5"/>
  <line x1="1522.7" y1="597.5" x2="1531" y2="597.5"/>
  <line x1="1522.7" y1="555.5" x2="1531" y2="555.5"/>
  <line x1="1522.7" y1="513.5" x2="1531" y2="513.5"/>
  <line x1="1522.7" y1="471.5" x2="1531" y2="471.5"/>
  <line x1="1522.7" y1="429.5" x2="1531" y2="429.5"/>
  <line x1="1522.7" y1="387.5" x2="1531" y2="387.5"/>
  <line x1="1522.7" y1="345.5" x2="1531" y2="345.5"/>
 </g>
 <g class="t" font-size="21.4">
  <text x="1541.7" y="857.3">0.1</text>
  <text x="1541.7" y="815.3">0.5</text>
  <text x="1541.7" y="773.3">1.0</text>
  <text x="1541.7" y="731.3">2.0</text>
  <text x="1541.7" y="689.3">4.0</text>
  <text x="1541.7" y="647.2">6.0</text>
  <text x="1541.7" y="605.2">8.0</text>
  <text x="1541.7" y="563.2">10.0</text>
  <text x="1541.7" y="521.2">12.0</text>
  <text x="1541.7" y="479.2">15.0</text>
  <text x="1541.7" y="437.2">20.0</text>
  <text x="1541.7" y="395.2">25.0</text>
  <text x="1541.7" y="353.2">30.0</text>
 </g>
 <text class="t" font-size="21.4" text-anchor="middle" transform="translate(1619,600) rotate(-90)">[mm]</text>
</g>
</svg>
</body></html>
